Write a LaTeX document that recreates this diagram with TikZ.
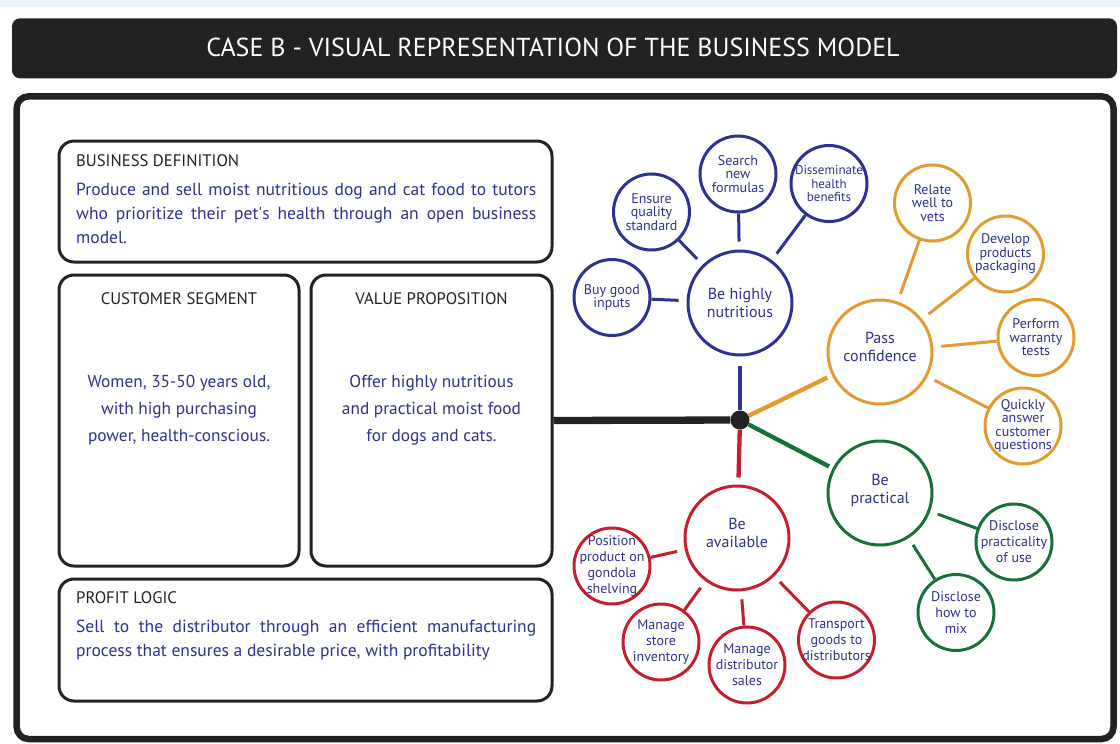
\documentclass[tikz,border=0pt]{standalone}
\usepackage{fontspec}
\setmainfont{PT Sans}
\usetikzlibrary{positioning}
\hyphenpenalty=10000
\tolerance=9999
\definecolor{ink}{HTML}{222222}
\definecolor{haze}{HTML}{EEF5FD}
\definecolor{navy}{HTML}{2D3192}
\definecolor{amber}{HTML}{E39B2F}
\definecolor{forest}{HTML}{17703A}
\definecolor{crimson}{HTML}{C41F2E}
\tikzstyle{titlebar} = [fill=ink, rounded corners=8pt, minimum width=1105, minimum height=60, inner sep=0pt]
\tikzstyle{titletext} = [text=white, font=\fontsize{26}{30}\selectfont, inner sep=0pt]
\tikzstyle{frame} = [draw=ink, line width=6.5pt, rounded corners=12pt]
\tikzstyle{panel} = [draw=ink, line width=3pt, rounded corners=15pt, inner sep=0pt]
\tikzstyle{heading} = [text=ink, font=\fontsize{16.7}{20}\selectfont, inner sep=0pt]
\tikzstyle{body} = [text=navy, font=\fontsize{17.5}{24.3}\selectfont, inner sep=0pt]
\tikzstyle{centred} = [body, align=center, font=\fontsize{17.3}{27}\selectfont]
\tikzstyle{goal} = [draw, circle, line width=3pt, minimum size=104, inner sep=0pt]
\tikzstyle{goaltext} = [text=navy, align=center, inner sep=0pt, font=\fontsize{16}{18}\selectfont]
\tikzstyle{task} = [draw, circle, line width=3pt, minimum size=76, inner sep=0pt]
\tikzstyle{tasktext} = [text=navy, align=center, inner sep=0pt, font=\fontsize{14}{13.5}\selectfont]
\tikzstyle{loose} = [tasktext, font=\fontsize{14}{16}\selectfont]
\tikzstyle{branch} = [line width=4.3pt]
\tikzstyle{spoke} = [line width=3pt, shorten >=8pt]

\begin{document}
\begin{tikzpicture}[x=1pt, y=-1pt]
    \useasboundingbox (0,0) rectangle (1120,744);

    % Title and frame.
    \fill [haze] (0,0) rectangle (1120,7);
    \node (bar) [titlebar] at (564.5,48.3) {};
    \node (title) [titletext] at (553,47) {CASE B - VISUAL REPRESENTATION OF THE BUSINESS MODEL};
    \draw [frame] (16.7,96.3) rectangle (1113.5,739);

    % Panels.
    \node (definition) [panel, minimum width=493, minimum height=121] at (305.5,201.5) {};
    \node (segment) [panel, minimum width=240, minimum height=291] at (179,420.5) {};
    \node (value) [panel, minimum width=241, minimum height=291] at (431.5,420.5) {};
    \node (profit) [panel, minimum width=493, minimum height=122] at (305.5,640) {};

    \node (definition title) [heading, anchor=base west] at (76,166) {BUSINESS DEFINITION};
    \node (definition text) [body, anchor=base west, text width=460, align=justify] at (76,195)
        {Produce and sell moist nutritious dog and cat food to tutors who prioritize their pet\textquotesingle s health through an open business model.};

    \node (segment title) [heading, anchor=base] at (179,304) {CUSTOMER SEGMENT};
    \node (segment text) [centred, anchor=base] at (179,441)
        {Women, 35-50 years old,\\with high purchasing\\power, health-conscious.};

    \node (value title) [heading, anchor=base] at (431.5,304) {VALUE PROPOSITION};
    \node (value text) [centred, anchor=base] at (431.5,441)
        {Offer highly nutritious\\and practical moist food\\for dogs and cats.};

    \node (profit title) [heading, anchor=base west] at (76,603) {PROFIT LOGIC};
    \node (profit text) [body, anchor=base west, text width=460, align=justify] at (76,632)
        {Sell to the distributor through an efficient manufacturing process that ensures a desirable price, with profitability};

    % Hub.
    \node (hub) [circle, fill=ink, minimum size=19, inner sep=0pt] at (740,420) {};

    % Goals.
    \node (nutri) [goal, draw=navy, label={[goaltext]center:{Be highly\\nutritious}}] at (740,303) {};
    \node (trust) [goal, draw=amber, label={[goaltext, yshift=5pt]center:{Pass\\confidence}}] at (880,352) {};
    \node (handy) [goal, draw=forest, label={[goaltext, yshift=3pt]center:{Be\\practical}}] at (880,493) {};
    \node (avail) [goal, draw=crimson, label={[goaltext, yshift=5pt]center:{Be\\available}}] at (737,538) {};

    % Tasks.
    \node (buy) [task, draw=navy, label={[tasktext]center:{Buy good\\inputs}}] at (612,297.5) {};
    \node (ensure) [task, draw=navy, label={[tasktext]center:{Ensure\\quality\\standard}}] at (651.5,212) {};
    \node (search) [task, draw=navy, label={[tasktext]center:{Search\\new\\formulas}}] at (738,174) {};
    \node (spread) [task, draw=navy, label={[tasktext, font=\fontsize{13}{13.5}\selectfont]center:{Disseminate\\health\\benefits}}] at (829,183.5) {};

    \node (vets) [task, draw=amber, label={[tasktext]center:{Relate\\well to\\vets}}] at (932.5,203) {};
    \node (pack) [task, draw=amber, label={[tasktext]center:{Develop\\products\\packaging}}] at (1005.5,254) {};
    \node (tests) [task, draw=amber, label={[tasktext]center:{Perform\\warranty\\tests}}] at (1036,337.5) {};
    \node (answer) [task, draw=amber, label={[tasktext]center:{Quickly\\answer\\customer\\questions}}] at (1023,426) {};

    \node (use) [task, draw=forest, label={[loose]center:{Disclose\\practicality\\of use}}] at (1014,542) {};
    \node (mix) [task, draw=forest, label={[loose]center:{Disclose\\how to\\mix}}] at (956,612.5) {};

    \node (shelf) [task, draw=crimson, label={[loose]center:{Position\\product on\\gondola\\shelving}}] at (612,566) {};
    \node (store) [task, draw=crimson, label={[loose]center:{Manage\\store\\inventory}}] at (661,642) {};
    \node (sales) [task, draw=crimson, label={[loose]center:{Manage\\distributor\\sales}}] at (747,665) {};
    \node (ship) [task, draw=crimson, label={[loose]center:{Transport\\goods to\\distributors}}] at (836.5,640) {};

    % Connections.
    \draw [ink, line width=7.3pt] (value.east) -- (hub);
    \draw [branch, navy, shorten >=9pt] (hub) -- (nutri);
    \draw [branch, amber, shorten >=5pt] (hub) -- (trust);
    \draw [branch, forest, shorten >=4pt] (hub) -- (handy);
    \draw [branch, crimson, shorten >=7pt] (hub) -- (avail);

    \foreach \t in {buy, ensure, search, spread} {
        \draw [spoke, navy] (\t) -- (nutri);
    }
    \foreach \t in {vets, pack, tests, answer} {
        \draw [spoke, amber] (\t) -- (trust);
    }
    \foreach \t in {use, mix} {
        \draw [spoke, forest] (\t) -- (handy);
    }
    \foreach \t in {shelf, store, sales, ship} {
        \draw [spoke, crimson] (\t) -- (avail);
    }
\end{tikzpicture}
\end{document}
